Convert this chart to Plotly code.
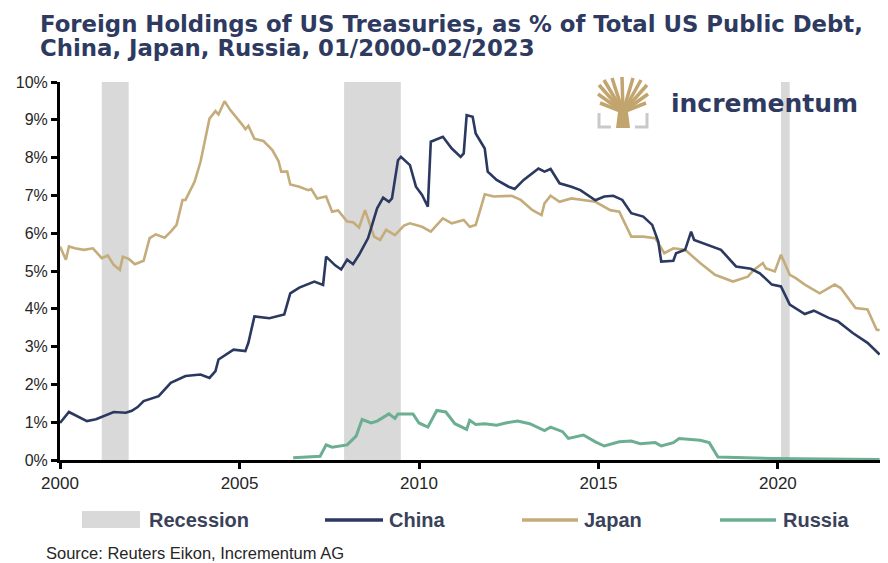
import plotly.graph_objects as go

# values, % of total US public debt
china_dates = ["2000-01", "2000-04", "2000-10", "2001-01", "2001-07", "2001-11", "2002-01", "2002-03",
               "2002-05", "2002-10", "2003-02", "2003-07", "2003-12", "2004-03", "2004-05", "2004-06",
               "2004-11", "2005-03", "2005-04", "2005-06", "2005-11", "2006-04", "2006-06", "2006-09",
               "2007-02", "2007-05", "2007-06", "2007-09", "2007-11", "2008-01", "2008-03", "2008-05",
               "2008-08", "2008-11", "2009-01", "2009-03", "2009-04", "2009-06", "2009-07", "2009-10",
               "2009-12", "2010-02", "2010-04", "2010-05", "2010-09", "2010-12", "2011-03", "2011-04",
               "2011-05", "2011-07", "2011-08", "2011-11", "2011-12", "2012-03", "2012-07", "2012-09",
               "2012-12", "2013-05", "2013-07", "2013-09", "2013-12", "2014-04", "2014-07", "2014-12",
               "2015-03", "2015-06", "2015-09", "2015-12", "2016-04", "2016-07", "2016-09", "2016-10",
               "2017-02", "2017-03", "2017-06", "2017-08", "2017-09", "2017-12", "2018-06", "2018-11",
               "2019-04", "2019-07", "2019-11", "2020-02", "2020-05", "2020-10", "2021-01", "2021-06",
               "2021-09", "2022-02", "2022-07", "2022-11"]
china_pct = [0.98, 1.27, 1.03, 1.08, 1.27, 1.25, 1.30, 1.40,
             1.56, 1.69, 2.04, 2.22, 2.26, 2.17, 2.35, 2.66,
             2.92, 2.88, 3.10, 3.80, 3.75, 3.85, 4.41, 4.56,
             4.72, 4.63, 5.38, 5.15, 5.04, 5.30, 5.18, 5.43,
             5.87, 6.66, 6.94, 6.83, 6.92, 7.93, 8.02, 7.80,
             7.23, 7.01, 6.70, 8.42, 8.55, 8.24, 8.02, 8.11,
             9.12, 9.08, 8.64, 8.24, 7.63, 7.41, 7.23, 7.17,
             7.41, 7.71, 7.63, 7.70, 7.32, 7.23, 7.14, 6.87,
             6.97, 6.99, 6.88, 6.53, 6.44, 6.22, 5.78, 5.25,
             5.27, 5.47, 5.56, 6.04, 5.82, 5.73, 5.56, 5.12,
             5.06, 4.94, 4.64, 4.59, 4.11, 3.86, 3.95, 3.76,
             3.67, 3.36, 3.10, 2.79]

japan_dates = ["2000-01", "2000-03", "2000-04", "2000-06", "2000-09", "2000-12", "2001-03", "2001-05",
               "2001-07", "2001-09", "2001-10", "2001-12", "2002-02", "2002-05", "2002-07", "2002-09",
               "2002-12", "2003-02", "2003-04", "2003-06", "2003-07", "2003-10", "2003-12", "2004-03",
               "2004-05", "2004-06", "2004-08", "2004-10", "2005-02", "2005-03", "2005-04", "2005-06",
               "2005-09", "2005-12", "2006-02", "2006-03", "2006-05", "2006-06", "2006-09", "2006-12",
               "2007-01", "2007-03", "2007-06", "2007-08", "2007-10", "2008-01", "2008-03", "2008-05",
               "2008-07", "2008-08", "2008-10", "2008-12", "2009-02", "2009-05", "2009-08", "2009-10",
               "2010-02", "2010-05", "2010-09", "2010-12", "2011-04", "2011-06", "2011-08", "2011-10",
               "2011-11", "2012-02", "2012-05", "2012-08", "2012-11", "2013-03", "2013-06", "2013-07",
               "2013-09", "2013-12", "2014-04", "2014-07", "2014-12", "2015-05", "2015-08", "2015-12",
               "2016-04", "2016-08", "2016-11", "2017-02", "2017-06", "2017-11", "2018-04", "2018-10",
               "2019-03", "2019-05", "2019-08", "2019-09", "2019-12", "2020-02", "2020-05", "2020-07",
               "2020-10", "2021-03", "2021-08", "2021-10", "2022-03", "2022-07", "2022-10", "2022-11"]
japan_pct = [5.65, 5.30, 5.65, 5.60, 5.56, 5.60, 5.34, 5.41,
             5.16, 5.03, 5.38, 5.32, 5.18, 5.27, 5.87, 5.97,
             5.88, 6.04, 6.22, 6.88, 6.88, 7.36, 7.89, 9.03,
             9.23, 9.14, 9.49, 9.25, 8.86, 8.75, 8.84, 8.50,
             8.44, 8.20, 7.91, 7.63, 7.63, 7.29, 7.23, 7.14,
             7.17, 6.92, 6.97, 6.57, 6.60, 6.31, 6.29, 6.15,
             6.61, 6.39, 5.91, 5.82, 6.09, 5.95, 6.20, 6.26,
             6.17, 6.04, 6.39, 6.26, 6.35, 6.17, 6.22, 6.75,
             7.03, 6.97, 6.97, 6.99, 6.88, 6.61, 6.48, 6.79,
             6.99, 6.83, 6.92, 6.88, 6.83, 6.61, 6.57, 5.91,
             5.91, 5.87, 5.47, 5.60, 5.56, 5.21, 4.90, 4.72,
             4.85, 5.03, 5.21, 5.07, 4.99, 5.43, 4.90, 4.81,
             4.64, 4.41, 4.64, 4.55, 4.02, 3.98, 3.45, 3.43]

russia_dates = ["2006-07", "2007-04", "2007-06", "2007-08", "2008-01", "2008-04", "2008-06", "2008-09",
                "2008-11", "2009-03", "2009-05", "2009-06", "2009-11", "2010-01", "2010-04", "2010-07",
                "2010-10", "2011-01", "2011-05", "2011-06", "2011-08", "2011-11", "2012-03", "2012-06",
                "2012-10", "2013-02", "2013-07", "2013-09", "2014-01", "2014-03", "2014-08", "2014-12",
                "2015-03", "2015-08", "2015-12", "2016-03", "2016-08", "2016-10", "2017-02", "2017-04",
                "2017-11", "2018-02", "2018-05", "2019-03", "2019-11", "2022-11"]
russia_pct = [0.06, 0.10, 0.40, 0.34, 0.40, 0.63, 1.07, 0.98,
              1.03, 1.22, 1.10, 1.22, 1.22, 0.98, 0.87, 1.31,
              1.27, 0.96, 0.81, 1.05, 0.94, 0.96, 0.92, 0.98,
              1.03, 0.96, 0.78, 0.87, 0.75, 0.57, 0.66, 0.48,
              0.37, 0.48, 0.50, 0.43, 0.46, 0.37, 0.46, 0.57,
              0.52, 0.46, 0.08, 0.06, 0.04, 0.01]

recession_start = ["2001-03-01", "2007-12-01", "2020-02-01"]
recession_end = ["2001-11-30", "2009-06-30", "2020-04-30"]

NAVY = "#2b3961"
GOLD = "#c4ad7b"
GREEN = "#6cae92"
GREY = "#d9d9d9"
TEXT = "#3a4259"

# page has an 8px body margin and only ~880px of width is visible,
# so the figure is drawn smaller and placed with screenshot pixel positions minus the offset
OFF = 8
W, H = 888 - OFF, 563 - OFF
L, R, T, B = 52, 8, 74, 103


def px(x, y):
    # screenshot pixel position -> paper coordinates
    x, y = x - OFF, y - OFF
    return (x - L) / (W - L - R), (H - B - y) / (H - T - B)


fig = go.Figure()
fig.add_trace(go.Scatter(x=japan_dates, y=japan_pct, mode="lines", name="Japan",
                         line=dict(color=GOLD, width=2.6)))
fig.add_trace(go.Scatter(x=china_dates, y=china_pct, mode="lines", name="China",
                         line=dict(color=NAVY, width=2.6)))
fig.add_trace(go.Scatter(x=russia_dates, y=russia_pct, mode="lines", name="Russia",
                         line=dict(color=GREEN, width=3)))

shapes = []
for s, e in zip(recession_start, recession_end):
    shapes.append(dict(type="rect", xref="x", yref="paper", x0=s, x1=e, y0=0, y1=1,
                       fillcolor=GREY, line_width=0, layer="below"))

annotations = []
# title, two lines
for txt, yc in [("Foreign Holdings of US Treasuries, as % of Total US Public Debt,", 24),
                ("China, Japan, Russia, 01/2000-02/2023", 48)]:
    ax, ay = px(38, yc)
    annotations.append(dict(text=txt, x=ax, y=ay, xref="paper", yref="paper", showarrow=False,
                            xanchor="left", yanchor="middle",
                            font=dict(family="DejaVu Sans", size=22.8, color="#2e3a5f", weight="bold")))

# legend built by hand
lx0, ly0 = px(82, 511)
lx1, ly1 = px(140, 528)
shapes.append(dict(type="rect", xref="paper", yref="paper", x0=lx0, x1=lx1, y0=ly0, y1=ly1,
                   fillcolor=GREY, line_width=0))
legend_items = [("Recession", None, 147), ("China", (325, 383, NAVY), 387),
                ("Japan", (522, 578, GOLD), 582), ("Russia", (720, 776, GREEN), 781)]
for name, ln, tx in legend_items:
    if ln:
        a, yy = px(ln[0], 520)
        b, _ = px(ln[1], 520)
        shapes.append(dict(type="line", xref="paper", yref="paper", x0=a, x1=b, y0=yy, y1=yy,
                           line=dict(color=ln[2], width=3.5)))
    ax, ay = px(tx, 520)
    annotations.append(dict(text=name, x=ax, y=ay, xref="paper", yref="paper", showarrow=False,
                            xanchor="left", yanchor="middle",
                            font=dict(family="Liberation Sans", size=20, color=TEXT, weight="bold")))

sx, sy = px(44, 553)
annotations.append(dict(text="Source: Reuters Eikon, Incrementum AG", x=sx, y=sy, xref="paper", yref="paper",
                        showarrow=False, xanchor="left", yanchor="middle",
                        font=dict(family="Liberation Sans", size=16.5, color="#262626")))

# logo: small tree mark + wordmark
base = px(623, 112)
for ex, ey in [(599, 85), (604, 80), (612, 78), (622, 77), (633, 78), (641, 80), (647, 85),
               (598, 94), (648, 94), (600, 103), (646, 103)]:
    e = px(ex, ey)
    shapes.append(dict(type="line", xref="paper", yref="paper", x0=base[0], y0=base[1], x1=e[0], y1=e[1],
                       line=dict(color="#c2a56e", width=3.5)))
trunk = [px(619, 104), px(627, 104), px(630, 128), px(616, 128)]
shapes.append(dict(type="path", xref="paper", yref="paper",
                   path="M " + " L ".join(f"{p[0]},{p[1]}" for p in trunk) + " Z",
                   fillcolor="#c2a56e", line_width=0))
for pts in [[(599, 113), (599, 127), (611, 127)], [(647, 113), (647, 127), (635, 127)]]:
    pp = [px(*p) for p in pts]
    shapes.append(dict(type="path", xref="paper", yref="paper",
                       path="M " + " L ".join(f"{p[0]},{p[1]}" for p in pp),
                       line=dict(color="#c9c9c9", width=3)))
wx, wy = px(669, 103)
annotations.append(dict(text="incrementum", x=wx, y=wy, xref="paper", yref="paper", showarrow=False,
                        xanchor="left", yanchor="middle",
                        font=dict(family="DejaVu Sans", size=25, color="#2e3a5f", weight="bold")))

fig.update_layout(
    width=W, height=H,
    margin=dict(l=L, r=R, t=T, b=B),
    plot_bgcolor="white", paper_bgcolor="white",
    showlegend=False,
    shapes=shapes, annotations=annotations,
    font=dict(family="Liberation Sans", color="#262626"),
)
fig.update_xaxes(range=["2000-01-01", "2022-11-05"], type="date", tick0="2000-01-01", dtick="M60",
                 tickformat="%Y", showgrid=False, zeroline=False, showline=True, linewidth=3,
                 linecolor="black", ticks="outside", ticklen=6, tickwidth=3, tickcolor="black",
                 tickfont=dict(size=17, color="#262626"))
fig.update_yaxes(range=[0, 10], dtick=1, ticksuffix="%", showgrid=False, zeroline=False, showline=True,
                 linewidth=3, linecolor="black", ticks="outside", ticklen=6, tickwidth=3,
                 tickcolor="black", tickfont=dict(size=16, color="#262626"))

fig.write_html("out.html")
